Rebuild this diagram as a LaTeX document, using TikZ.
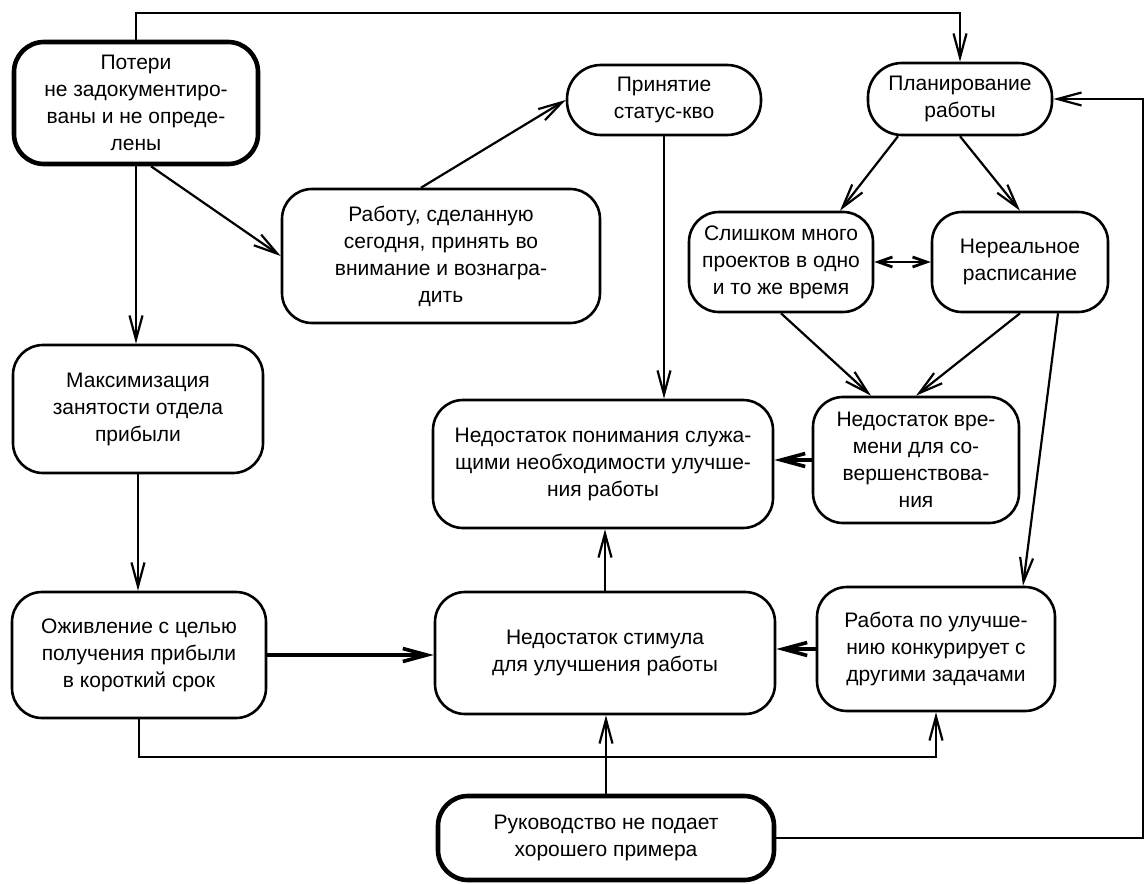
\documentclass[tikz,border=0pt]{standalone}
\usepackage{fontspec}
\setmainfont{Liberation Sans}
\usetikzlibrary{arrows.meta}
\usetikzlibrary{calc}

\tikzset{
  box/.style={draw, rounded corners=15pt, align=center, line width=1.3pt, inner sep=2pt},
  firmbox/.style={box, line width=2.3pt},
  pill/.style={box, rounded corners=17pt},
  heavy/.style={line width=1.8pt}
}

\begin{document}
\begin{tikzpicture}[x=0.5pt, y=-0.5pt, >={Straight Barb[length=12pt,width=6.5pt]}, line width=1.1pt, font=\fontsize{10.5}{13.5}\selectfont]
  \useasboundingbox (0,0) rectangle (1145,883);

  % linke Spalte
  \node[firmbox, minimum width=122pt, minimum height=61pt] (loss) at (136,103) {Потери\\не задокументиро-\\ваны и не опреде-\\лены};
  \node[box, minimum width=125pt, minimum height=64pt] (maxemp) at (138,409) {Максимизация\\занятости отдела\\прибыли};
  \node[box, minimum width=127pt, minimum height=63pt] (revival) at (139,655) {Оживление с целью\\получения прибыли\\в короткий срок};

  % Mitte
  \node[box, minimum width=159pt, minimum height=67pt] (wt) at (441,256) {Работу, сделанную\\сегодня, принять во\\внимание и вознагра-\\дить};
  \node[pill, minimum width=97pt, minimum height=35pt] (sq) at (664,100) {Принятие\\статус-кво};
  \node[box, minimum width=170pt, minimum height=64pt] (underst) at (603,464) {Недостаток понимания служа-\\щими необходимости улучше-\\ния работы};
  \node[box, minimum width=170pt, minimum height=61pt] (stimulus) at (605,653) {Недостаток стимула\\для улучшения работы};
  \node[firmbox, minimum width=168pt, minimum height=42pt] (mgmt) at (606,838) {Руководство не подает\\хорошего примера};

  % rechts
  \node[pill, minimum width=92pt, minimum height=36pt] (plan) at (960,99) {Планирование\\работы};
  \node[box, minimum width=92pt, minimum height=50pt] (many) at (781,262) {Слишком много\\проектов в одно\\и то же время};
  \node[box, minimum width=88pt, minimum height=50pt] (unreal) at (1020,262) {Нереальное\\расписание};
  \node[box, minimum width=103pt, minimum height=63pt] (lacktime) at (916,460) {Недостаток вре-\\мени для со-\\вершенствова-\\ния};
  \node[box, minimum width=119pt, minimum height=62pt] (compete) at (936,649) {Работа по улучше-\\нию конкурирует с\\другими задачами};

  % Pfeile
  \draw[->] (loss.north) -- ++(0,-27) -| (plan.north);
  \draw[->] ($(loss.south)+(15,0)$) -- (wt.west);
  \draw[->] ($(wt.north)+(-20,0)$) -- (sq.west);
  \foreach \a/\b in {loss/maxemp,maxemp/revival,sq/underst}
    \draw[->] (\a.south) -- (\a.south |- \b.north);
  \foreach \a/\b in {stimulus/underst,mgmt/stimulus}
    \draw[->] (\a.north) -- (\a.north |- \b.south);

  \draw[->] ($(plan.south)+(-62,0)$) -- ($(many.north)+(59,0)$);
  \draw[->] (plan.south) -- (unreal.north);
  \draw[{Straight Barb[length=7pt,width=5pt]}-{Straight Barb[length=7pt,width=5pt]},line width=1.4pt] (many.east) -- (unreal.west);
  \draw[->] (many.south) -- ($(lacktime.north)+(-45,0)$);
  \draw[->] (unreal.south) -- (lacktime.north);
  \draw[->] ($(unreal.south)+(38,0)$) -- ($(compete.north)+(87,0)$);

  \draw[->,heavy] (lacktime.west) -- (lacktime.west -| underst.east);
  \draw[->,heavy] (revival.east) -- (revival.east -| stimulus.west);
  \draw[->,heavy] (compete.west) -- (compete.west -| stimulus.east);

  \draw[->] (revival.south) -- ++(0,38) -| (compete.south);
  \draw[->] (mgmt.east) -- ++(367,0) |- (plan.east);
\end{tikzpicture}
\end{document}
